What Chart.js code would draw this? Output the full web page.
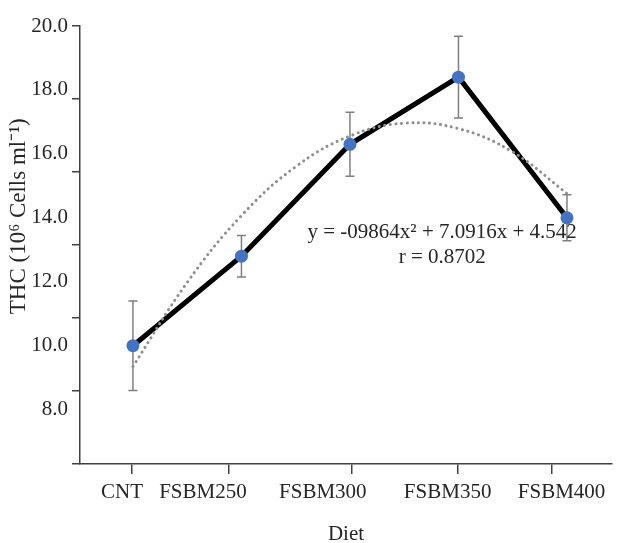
<!DOCTYPE html>
<html>
<head>
<meta charset="utf-8">
<title>THC by diet</title>
<script src="https://cdn.jsdelivr.net/npm/chart.js@4.4.1/dist/chart.umd.min.js"></script>
<style>
  html, body { margin: 0; padding: 0; background: #fff; }
  canvas { display: block; }
</style>
</head>
<body>
<canvas id="thc-chart" width="619" height="543"></canvas>
<script>
// ── DATA ──────────────────────────────────────────────────────────────────────
const diets    = ['CNT', 'FSBM250', 'FSBM300', 'FSBM350', 'FSBM400'];
const thcMean  = [10.0, 12.8, 16.3, 18.4, 14.0];
const thcErr   = [1.4, 0.65, 1.0, 1.28, 0.72];

// dotted polynomial trend at half steps
const trendX   = [0, 0.5, 1, 1.5, 2, 2.5, 3, 3.5, 4];
const trendY   = [9.35, 11.98, 14.07, 15.6, 16.56, 16.96, 16.79, 16.06, 14.76];

const yTicks   = [8, 10, 12, 14, 16, 18, 20];
const xLabelAt = [-0.10, 0.645, 1.75, 2.90, 3.95];   // category label positions
const xMarkAt  = [-0.01, 0.88, 2.02, 2.99, 3.86];    // x tick mark positions

const eqLines  = ['y = -09864x\u00B2 + 7.0916x + 4.542', 'r = 0.8702'];
const eqAnchor = { x: 2.85, y: [13.53, 12.75] };

// ── STYLE ─────────────────────────────────────────────────────────────────────
const TEXT = '#262626';
const AXIS = '#404040';
Chart.defaults.font.family = "'Liberation Serif', 'Times New Roman', serif";
Chart.defaults.color = TEXT;

// error bars + equation, drawn under the lines and points
const errorBars = {
  id: 'errorBars',
  beforeDatasetsDraw(chart) {
    const { ctx, scales: { x, y } } = chart;
    ctx.save();
    ctx.strokeStyle = '#7f7f7f';
    ctx.lineWidth   = 1.5;
    thcMean.forEach((m, i) => {
      const px  = x.getPixelForValue(i);
      const top = y.getPixelForValue(m + thcErr[i]);
      const bot = y.getPixelForValue(m - thcErr[i]);
      ctx.beginPath();
      ctx.moveTo(px, top); ctx.lineTo(px, bot);
      ctx.moveTo(px - 4.5, top); ctx.lineTo(px + 4.5, top);
      ctx.moveTo(px - 4.5, bot); ctx.lineTo(px + 4.5, bot);
      ctx.stroke();
    });
    // regression equation
    ctx.fillStyle    = TEXT;
    ctx.font         = "21px 'Liberation Serif', serif";
    ctx.textAlign    = 'center';
    ctx.textBaseline = 'middle';
    eqLines.forEach((t, i) => {
      ctx.fillText(t, x.getPixelForValue(eqAnchor.x), y.getPixelForValue(eqAnchor.y[i]));
    });
    ctx.restore();
  }
};

new Chart(document.getElementById('thc-chart'), {
  type: 'line',
  data: {
    datasets: [
      {
        label: 'points',
        data: thcMean.map((v, i) => ({ x: i, y: v })),
        showLine: false,
        pointRadius: 6.5,
        pointBackgroundColor: '#4472C4',
        pointBorderWidth: 0,
        order: 0
      },
      {
        label: 'trend',
        data: trendX.map((v, i) => ({ x: v, y: trendY[i] })),
        borderColor: '#8f8f8f',
        borderWidth: 3,
        borderDash: [0.1, 5.5],
        borderCapStyle: 'round',
        pointRadius: 0,
        tension: 0.4,
        fill: false,
        order: 1
      },
      {
        label: 'THC',
        data: thcMean.map((v, i) => ({ x: i, y: v })),
        borderColor: '#000',
        borderWidth: 5,
        borderJoinStyle: 'miter',
        pointRadius: 0,
        tension: 0,
        fill: false,
        order: 2
      }
    ]
  },
  options: {
    responsive: false,
    animation: false,
    layout: { padding: { top: 26, right: 7, bottom: 0, left: 0 } },
    plugins: { legend: { display: false }, tooltip: { enabled: false } },
    scales: {
      x: {
        type: 'linear', position: 'bottom', weight: 1,
        min: -0.488, max: 4.415,
        afterBuildTicks: s => { s.ticks = xLabelAt.map(v => ({ value: v })); },
        afterFit: s => { s.height = 69; },
        ticks: {
          autoSkip: false, maxRotation: 0, padding: 6,
          font: { size: 21 },
          callback: (v, i) => diets[i]
        },
        grid: { drawOnChartArea: false, drawTicks: false },
        border: { display: false },
        title: {
          display: true, text: 'Diet',
          font: { size: 21, lineHeight: 0.8 },
          padding: { top: 0, bottom: 0 }
        }
      },
      xMarks: {
        type: 'linear', position: 'bottom', weight: 0,
        min: -0.488, max: 4.415,
        afterBuildTicks: s => { s.ticks = xMarkAt.map(v => ({ value: v })); },
        afterFit: s => { s.height = 10; },
        ticks: { display: false },
        grid: { drawOnChartArea: false, tickLength: 10, color: AXIS, lineWidth: 1.5 },
        border: { color: AXIS, width: 1.5 }
      },
      y: {
        type: 'linear', position: 'left', weight: 1,
        min: 6.3, max: 20,
        afterBuildTicks: s => { s.ticks = yTicks.map(v => ({ value: v })); },
        afterFit: s => { s.width = 72; },
        ticks: { padding: 4, font: { size: 21 }, callback: v => v.toFixed(1) },
        grid: { drawOnChartArea: false, drawTicks: false },
        border: { display: false },
        title: {
          display: true,
          // leading spaces nudge the rotated title upward, as in the original
          text: '\u2003\u2003\u2002THC (10\u2076 Cells ml\u207B\u00B9)',
          font: { size: 23 },
          padding: { top: 5, bottom: 0 }
        }
      },
      yMarks: {
        type: 'linear', position: 'left', weight: 0,
        min: 0, max: 6,
        afterFit: s => { s.width = 8; },
        ticks: { display: false, stepSize: 1 },
        grid: { drawOnChartArea: false, tickLength: 8, color: AXIS, lineWidth: 1.5 },
        border: { color: AXIS, width: 1.5 }
      }
    }
  },
  plugins: [errorBars]
});
</script>
</body>
</html>
